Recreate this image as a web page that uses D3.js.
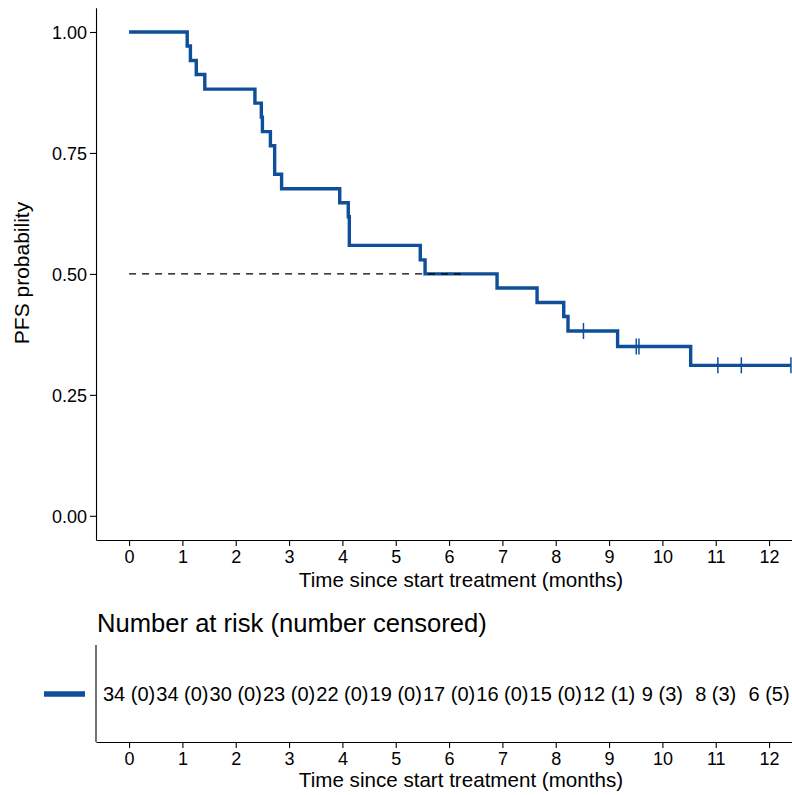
<!DOCTYPE html>
<html>
<head>
<meta charset="utf-8">
<script src="https://d3js.org/d3.v7.min.js"></script>
<style>
  body { margin: 0; background: #fff; }
  svg { display: block; font-family: "Liberation Sans", Arial, Helvetica, sans-serif; }
</style>
</head>
<body>
<svg id="chart" width="792" height="795"></svg>
<script>
// Kaplan-Meier steps
const stepTimes = [0, 1.09, 1.15, 1.26, 1.42, 2.36, 2.48, 2.50, 2.65, 2.73, 2.86, 3.95, 4.11, 4.13, 5.46, 5.55, 6.90, 7.65, 8.15, 8.23, 9.16, 10.53];
const survival = [1.000, 0.971, 0.941, 0.912, 0.882, 0.853, 0.824, 0.794, 0.765, 0.706, 0.676, 0.647, 0.618, 0.559, 0.529, 0.500, 0.471, 0.441, 0.412, 0.382, 0.350, 0.311];
const endTime = 12.41;
const censorTimes = [8.52, 9.51, 9.56, 11.04, 11.48, 12.41];
const medianTime = 6.22;

// risk table
const riskTimes = [0, 1, 2, 3, 4, 5, 6, 7, 8, 9, 10, 11, 12];
const nRisk = [34, 34, 30, 23, 22, 19, 17, 16, 15, 12, 9, 8, 6];
const nCensored = [0, 0, 0, 0, 0, 0, 0, 0, 0, 1, 3, 3, 5];

const yTicks = [0, 0.25, 0.5, 0.75, 1];
const xTicks = [0, 1, 2, 3, 4, 5, 6, 7, 8, 9, 10, 11, 12];

const blue = "#0f4e99";
const svg = d3.select("#chart");

// scales (panel runs past the right edge of the picture)
const x = d3.scaleLinear().domain([-0.62, 13.03]).range([96, 824]);
const y = d3.scaleLinear().domain([-0.05, 1.05]).range([540, 7.8]);

// ---- main plot ----
const main = svg.append("g");

const yAxis = main.append("g")
  .attr("transform", "translate(96,0)")
  .call(d3.axisLeft(y).tickValues(yTicks).tickFormat(d3.format(".2f")).tickSize(6).tickSizeOuter(0));
yAxis.select(".domain").attr("stroke", "#000").attr("stroke-width", 1.1);
yAxis.selectAll(".tick line").attr("stroke", "#000").attr("stroke-width", 1.1);
yAxis.selectAll("text").attr("font-size", 18).attr("fill", "#000").attr("x", -9).attr("dy", "0.35em");

const xAxis = main.append("g")
  .attr("transform", "translate(0,540)")
  .call(d3.axisBottom(x).tickValues(xTicks).tickSize(6).tickSizeOuter(0));
xAxis.select(".domain").attr("stroke", "#000").attr("stroke-width", 1.1);
xAxis.selectAll(".tick line").attr("stroke", "#000").attr("stroke-width", 1.1);
xAxis.selectAll("text").attr("font-size", 18).attr("fill", "#000").attr("y", 10).attr("dy", "0.71em");

main.append("text")
  .attr("x", 461).attr("y", 587)
  .attr("text-anchor", "middle").attr("font-size", 20.6)
  .text("Time since start treatment (months)");

main.append("text")
  .attr("transform", "translate(29,273) rotate(-90)")
  .attr("text-anchor", "middle").attr("font-size", 21)
  .text("PFS probability");

// step curve
const pts = stepTimes.map((t, i) => [t, survival[i]]);
pts.push([endTime, survival[survival.length - 1]]);
const line = d3.line().x(d => x(d[0])).y(d => y(d[1])).curve(d3.curveStepAfter);
main.append("path")
  .attr("d", line(pts))
  .attr("fill", "none")
  .attr("stroke", blue)
  .attr("stroke-width", 3.4);

// censor marks
const survAt = t => survival[d3.bisectRight(stepTimes, t) - 1];
main.selectAll(".cens").data(censorTimes).join("line")
  .attr("class", "cens")
  .attr("x1", d => x(d)).attr("x2", d => x(d))
  .attr("y1", d => y(survAt(d)) - 8).attr("y2", d => y(survAt(d)) + 8)
  .attr("stroke", blue).attr("stroke-width", 1.5);

// median line
main.append("line")
  .attr("x1", x(0)).attr("x2", x(medianTime))
  .attr("y1", y(0.5)).attr("y2", y(0.5))
  .attr("stroke", "#000").attr("stroke-width", 1.2)
  .attr("stroke-dasharray", "7,6");

// ---- risk table ----
const tab = svg.append("g");

tab.append("text")
  .attr("x", 97).attr("y", 632)
  .attr("font-size", 25.6)
  .text("Number at risk (number censored)");

tab.append("line")
  .attr("x1", 96).attr("x2", 96).attr("y1", 645).attr("y2", 742)
  .attr("stroke", "#000").attr("stroke-width", 1.1);

const xAxis2 = tab.append("g")
  .attr("transform", "translate(0,742)")
  .call(d3.axisBottom(x).tickValues(xTicks).tickSize(6).tickSizeOuter(0));
xAxis2.select(".domain").attr("stroke", "#000").attr("stroke-width", 1.1);
xAxis2.selectAll(".tick line").attr("stroke", "#000").attr("stroke-width", 1.1);
xAxis2.selectAll("text").attr("font-size", 18).attr("fill", "#000").attr("y", 10).attr("dy", "0.71em");

tab.append("text")
  .attr("x", 461).attr("y", 787)
  .attr("text-anchor", "middle").attr("font-size", 20.6)
  .text("Time since start treatment (months)");

tab.selectAll(".risk").data(riskTimes).join("text")
  .attr("class", "risk")
  .attr("x", d => x(d)).attr("y", 701)
  .attr("text-anchor", "middle").attr("font-size", 20)
  .text((d, i) => `${nRisk[i]} (${nCensored[i]})`);

// legend key
tab.append("line")
  .attr("x1", 44).attr("x2", 85).attr("y1", 694).attr("y2", 694)
  .attr("stroke", blue).attr("stroke-width", 5.5);
</script>
</body>
</html>
